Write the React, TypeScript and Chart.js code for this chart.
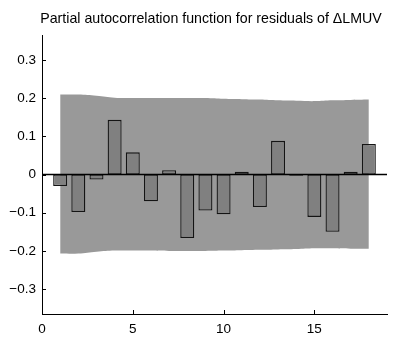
import React, { useEffect, useRef } from "react";
import { Chart, registerables } from "chart.js";

Chart.register(...registerables);

// Lags 1..18 of the partial autocorrelation function
const lags = [1, 2, 3, 4, 5, 6, 7, 8, 9, 10, 11, 12, 13, 14, 15, 16, 17, 18];
const pacf = [
  -0.03, -0.098, -0.013, 0.143, 0.058, -0.07, 0.011, -0.166, -0.094,
  -0.104, 0.007, -0.085, 0.088, -0.003, -0.111, -0.15, 0.007, 0.08,
];
// Confidence band limits per lag
const upperBound = [
  0.209, 0.209, 0.206, 0.201, 0.2, 0.2, 0.2, 0.2, 0.2,
  0.198, 0.197, 0.196, 0.194, 0.193, 0.192, 0.194, 0.195, 0.196,
];
const lowerBound = [
  -0.207, -0.207, -0.202, -0.199, -0.199, -0.199, -0.2, -0.2, -0.2,
  -0.199, -0.198, -0.197, -0.196, -0.195, -0.193, -0.193, -0.194, -0.194,
];
const xTicks = [0, 5, 10, 15];
const yTicks = [-0.3, -0.2, -0.1, 0, 0.1, 0.2, 0.3];
const titleText = "Partial autocorrelation function for residuals of \u0394LMUV";

const FONT = "'Liberation Sans', Arial, Helvetica, sans-serif";

const fmt = (v: number) => {
  const r = Math.round(v * 10) / 10;
  if (r === 0) return "0";
  return r < 0 ? "\u2212" + Math.abs(r).toFixed(1) : r.toFixed(1);
};

// Title and inward tick marks
const decorations = {
  id: "decorations",
  afterDraw(chart: any) {
    const { ctx, chartArea, scales } = chart;
    ctx.save();
    ctx.fillStyle = "#000";
    ctx.font = `14.2px ${FONT}`;
    ctx.textAlign = "center";
    ctx.textBaseline = "alphabetic";
    ctx.fillText(titleText, 211, 22.5);

    ctx.strokeStyle = "#000";
    ctx.lineWidth = 1;
    ctx.beginPath();
    for (const t of xTicks) {
      const px = Math.round(scales.x.getPixelForValue(t)) + 0.5;
      ctx.moveTo(px, chartArea.bottom);
      ctx.lineTo(px, chartArea.bottom - 4);
    }
    for (const t of yTicks) {
      const py = Math.round(scales.y.getPixelForValue(t)) + 0.5;
      ctx.moveTo(chartArea.left, py);
      ctx.lineTo(chartArea.left + 4, py);
    }
    ctx.stroke();
    ctx.restore();
  },
};

export default function App() {
  const canvasRef = useRef<HTMLCanvasElement | null>(null);

  useEffect(() => {
    if (!canvasRef.current) return;
    const chart = new Chart(canvasRef.current, {
      type: "bar",
      data: {
        datasets: [
          {
            type: "line",
            data: lags.map((x, i) => ({ x, y: upperBound[i] })),
            borderWidth: 0,
            borderColor: "rgba(0,0,0,0)",
            pointRadius: 0,
            tension: 0.4,
            backgroundColor: "#999999",
            fill: 1,
            order: 3,
          } as any,
          {
            type: "line",
            data: lags.map((x, i) => ({ x, y: lowerBound[i] })),
            borderWidth: 0,
            borderColor: "rgba(0,0,0,0)",
            pointRadius: 0,
            tension: 0.4,
            fill: false,
            order: 3,
          } as any,
          {
            type: "bar",
            data: lags.map((x, i) => ({ x, y: pacf[i] })),
            backgroundColor: "#808080",
            borderColor: "#141414",
            borderWidth: 1.3,
            borderSkipped: false,
            barPercentage: 0.77,
            categoryPercentage: 1,
            order: 2,
          } as any,
          {
            type: "line",
            data: [
              { x: 0, y: 0 },
              { x: 19, y: 0 },
            ],
            borderColor: "#000",
            borderWidth: 1.5,
            pointRadius: 0,
            fill: false,
            order: 1,
          } as any,
        ],
      },
      options: {
        animation: false,
        responsive: true,
        maintainAspectRatio: false,
        layout: { padding: { top: 35, right: 6, left: 0, bottom: 0 } },
        plugins: {
          legend: { display: false },
          title: { display: false },
          tooltip: { enabled: false },
        },
        scales: {
          x: {
            type: "linear",
            min: 0,
            max: 19,
            offset: false,
            grid: { display: false, drawTicks: false, tickLength: 0 },
            border: { display: true, color: "#000", width: 1 },
            afterBuildTicks: (s: any) => {
              s.ticks = xTicks.map((v) => ({ value: v }));
            },
            afterFit: (s: any) => {
              s.height = 23;
            },
            ticks: {
              color: "#000",
              font: { family: FONT, size: 13.5 },
              padding: 7,
              maxRotation: 0,
              callback: (v: any) => String(v),
            },
          },
          y: {
            type: "linear",
            min: -0.365,
            max: 0.365,
            grid: { display: false, drawTicks: false, tickLength: 0 },
            border: { display: true, color: "#000", width: 1 },
            afterBuildTicks: (s: any) => {
              s.ticks = yTicks.map((v) => ({ value: v }));
            },
            afterFit: (s: any) => {
              s.width = 42;
            },
            ticks: {
              color: "#000",
              font: { family: FONT, size: 13.5 },
              padding: 6,
              callback: (v: any) => fmt(Number(v)),
            },
          },
        },
      },
      plugins: [decorations],
    });
    return () => chart.destroy();
  }, []);

  return (
    <div
      style={{
        position: "fixed",
        left: 0,
        top: 0,
        width: 393,
        height: 337,
        background: "#fff",
      }}
    >
      <canvas ref={canvasRef} />
    </div>
  );
}
